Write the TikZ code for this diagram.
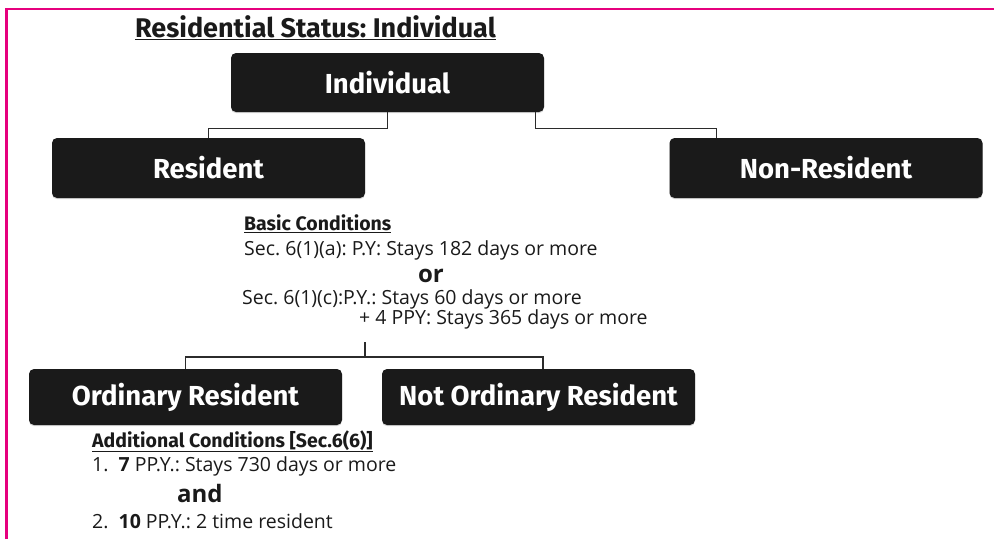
\documentclass[tikz,border=0pt]{standalone}
\usepackage{fontspec}
\setmainfont{Open Sans}
\newfontfamily\boxfont{Fira Sans}
\usetikzlibrary{shadows}
\definecolor{boxblack}{HTML}{1A1A1A}
\definecolor{framepink}{HTML}{E6007E}
\definecolor{linegray}{HTML}{2B2B2B}
\frenchspacing
\begin{document}
\begin{tikzpicture}[x=1pt,y=-1pt,
        statusbox/.style={fill=boxblack, rounded corners=5pt, text=white,
            font=\boxfont\bfseries\fontsize{27.5}{31}\selectfont,
            minimum width=313pt, minimum height=59pt, inner sep=0pt,
            drop shadow={opacity=0.3, shadow xshift=0pt, shadow yshift=-1.2pt}},
        heading/.style={anchor=base west, inner sep=0pt, text=boxblack,
            font=\boxfont\bfseries\fontsize{19.5}{23}\selectfont},
        rule/.style={anchor=base west, inner sep=0pt, text=boxblack,
            font=\fontsize{19.5}{23}\selectfont},
        joiner/.style={anchor=base, inner sep=0pt, text=boxblack,
            font=\bfseries\fontsize{24}{27}\selectfont},
        tree/.style={draw=linegray, line width=1.4pt}]
    \useasboundingbox (0,0) rectangle (994,539);
    \draw[framepink, line width=2.5pt] (6.5,539) -- (6.5,9) -- (994,9);

    \node[heading, font=\boxfont\bfseries\fontsize{27}{31}\selectfont] (title) at (135,37) {\underline{Residential Status: Individual}};

    \node[statusbox] (indiv) at (387.5,82.5) {Individual};
    \node[statusbox, minimum height=60pt] (res) at (208.5,168) {Resident};
    \node[statusbox, minimum height=60pt] (nonres) at (826,168) {Non-Resident};
    \node[statusbox, minimum height=56pt] (ordres) at (185.5,397) {Ordinary Resident};
    \node[statusbox, minimum height=56pt] (notord) at (538.5,397) {Not Ordinary Resident};

    \node[heading] (basic) at (244,230) {\underline{Basic Conditions}};
    \node[rule] (sixa) at (244,255) {Sec. 6(1)(a): P.Y: Stays 182 days or more};
    \node[joiner] (or) at (431,282) {or};
    \node[rule] (sixc) at (242,304) {Sec. 6(1)(c):P.Y.: Stays 60 days or more};
    \node[rule] (ppy) at (359,324) {+ 4 PPY: Stays 365 days or more};

    \node[heading] (extra) at (92,447) {\underline{Additional Conditions [Sec.6(6)]}};
    \node[rule] (seven) at (92,471) {1.\ \ \textbf{7} PP.Y.: Stays 730 days or more};
    \node[joiner, anchor=base west] (and) at (177,502) {and};
    \node[rule] (ten) at (92,528) {2.\ \ \textbf{10} PP.Y.: 2 time resident};

    \draw[tree] (indiv.south) -- ++(0,16) -| (res.north);
    \draw[tree] ([xshift=-9pt]indiv.south east) -- ++(0,16) -| ([xshift=47pt]nonres.north west);
    \draw[tree] ([xshift=6pt,yshift=-18pt]ppy.base west) -- ++(0,15) coordinate (fork) -| (ordres.north);
    \draw[tree] (fork) -| ([xshift=4.5pt]notord.north);
\end{tikzpicture}
\end{document}
